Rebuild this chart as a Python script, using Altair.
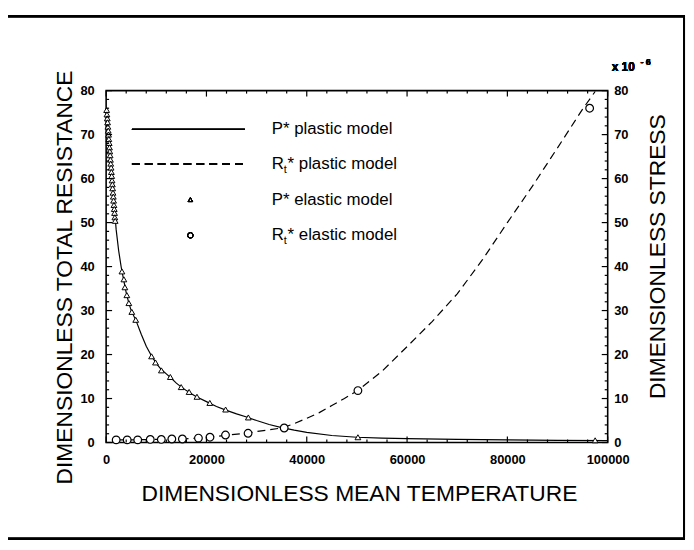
import altair as alt
import pandas as pd

# ---------------- data ----------------
# P* elastic model (triangles)
tri_x = [100, 160, 230, 290, 350, 420, 480, 540, 610, 670, 730, 800, 860, 920,
         990, 1050, 1110, 1180, 1240, 1300, 1370, 1430, 1490, 1560, 1620, 1680,
         1740, 1800, 3150, 3540, 3740, 4130, 4530, 5120, 5900, 9060, 9840, 11020,
         12800, 14960, 16540, 18110, 20670, 23820, 28350, 50200, 97500]
tri_y = [75.6, 74.6, 73.7, 72.8, 71.8, 70.9, 70.0, 69.0, 68.1, 67.1, 66.2, 65.3,
         64.3, 63.4, 62.5, 61.5, 60.6, 59.6, 58.7, 57.8, 56.8, 55.9, 55.0, 54.0,
         53.1, 52.2, 51.2, 50.4, 38.9, 37.1, 35.3, 33.5, 31.7, 29.7, 27.9, 19.6,
         18.2, 16.4, 14.9, 12.6, 11.5, 10.4, 9.0, 7.5, 5.7, 1.2, 0.5]

# Rt* elastic model (circles)
circ_x = [2000, 4200, 6300, 8800, 11000, 13100, 15200, 18400, 20700, 23800,
          28300, 35500, 50200, 96400]
circ_y = [0.6, 0.6, 0.6, 0.7, 0.7, 0.8, 0.8, 1.0, 1.2, 1.7, 2.1, 3.3, 11.8, 76.0]

# P* plastic model (solid line)
pp_x = [0, 500, 1000, 1500, 2000, 2500, 3000, 3500, 4000, 4500, 5000, 6000, 7000,
        8000, 9000, 10000, 11000, 12000, 13000, 14000, 15000, 16000, 17000, 18000,
        20000, 22000, 24000, 26000, 28000, 30000, 32500, 35000, 37500, 40000,
        45000, 50000, 55000, 60000, 70000, 80000, 90000, 100000]
pp_y = [76.0, 69.2, 62.3, 55.5, 48.4, 43.6, 39.9, 36.9, 34.1, 31.8, 30.0, 27.6,
        24.6, 21.9, 19.8, 18.0, 16.6, 15.6, 14.6, 13.5, 12.6, 11.8, 11.1, 10.4,
        9.3, 8.2, 7.3, 6.5, 5.8, 5.0, 4.1, 3.4, 2.8, 2.3, 1.6, 1.2, 1.0, 0.9,
        0.7, 0.6, 0.5, 0.45]

# Rt* plastic model (dashed line)
rp_x = [2000, 5000, 10000, 15000, 18000, 20000, 22500, 25000, 28000, 30000,
        32500, 35000, 37500, 40000, 42500, 45000, 47500, 50000, 55000, 60000,
        65000, 70000, 75000, 80000, 85000, 90000, 95000, 97500]
rp_y = [0.6, 0.6, 0.7, 0.8, 1.0, 1.15, 1.45, 1.8, 2.1, 2.5, 2.9, 3.3, 4.3, 5.5,
        6.8, 8.4, 10.0, 11.7, 16.2, 21.8, 27.5, 33.8, 41.5, 50.0, 58.3, 67.0,
        75.8, 79.8]

# axis ticks
x_major = [0, 20000, 40000, 60000, 80000, 100000]
x_minor = [v for v in range(4000, 100000, 4000) if v % 20000 != 0]
y_major = [0, 10, 20, 30, 40, 50, 60, 70, 80]
y_minor = [v for v in range(2, 80, 2) if v % 10 != 0]

# legend
leg_text = ["P* plastic model", "R", "t", "* plastic model",
            "P* elastic model", "R", "t", "* elastic model"]
leg_row = [0, 1, 1, 1, 2, 3, 3, 3]
leg_dx = [0, 0, 12.3, 16, 0, 0, 12.3, 16]
leg_sub = [0, 0, 1, 0, 0, 0, 1, 0]

x_title = "DIMENSIONLESS MEAN TEMPERATURE"
yl_title = "DIMENSIONLESS TOTAL RESISTANCE"
yr_title = "DIMENSIONLESS STRESS"

# ---------------- chart ----------------
W, H = 506, 355
FONT = "Liberation Sans"

tri = pd.DataFrame({"x": tri_x, "v": tri_y})
circ = pd.DataFrame({"x": circ_x, "v": circ_y})
pp = pd.DataFrame({"x": pp_x, "v": pp_y})
rp = pd.DataFrame({"x": rp_x, "v": rp_y})

xs = alt.Scale(domain=[0, 100000], nice=False, zero=False)
ys = alt.Scale(domain=[0, 80], nice=False, zero=False)

x_axis = alt.Axis(values=x_major, format="d", title=x_title, grid=False,
                  ticks=False, domain=False, labelFont=FONT, labelFontSize=13,
                  labelFontWeight="bold", labelColor="black", labelPadding=11,
                  labelFlush=False,
                  titleFont=FONT, titleFontSize=23, titleFontWeight="normal",
                  titleColor="black", titleX=255, titleY=59,
                  titleBaseline="alphabetic", titleAlign="center")

yl_axis = alt.Axis(values=y_major, orient="left", title=yl_title, grid=False,
                   ticks=False, domain=False, labelFont=FONT, labelFontSize=13,
                   labelFontWeight="bold", labelColor="black", labelPadding=12,
                   labelFlush=False,
                   titleFont=FONT, titleFontSize=23, titleFontWeight="normal",
                   titleColor="black", titleAngle=270, titleX=-35, titleY=188,
                   titleBaseline="alphabetic", titleAlign="center")

yr_axis = alt.Axis(values=y_major, orient="right", title=yr_title, grid=False,
                   ticks=False, domain=False, labelFont=FONT, labelFontSize=13,
                   labelFontWeight="bold", labelColor="black", labelPadding=6,
                   labelFlush=False,
                   titleFont=FONT, titleFontSize=23, titleFontWeight="normal",
                   titleColor="black", titleAngle=270, titleX=57, titleY=167,
                   titleBaseline="alphabetic", titleAlign="center")


def X():
    return alt.X("x:Q", scale=xs, axis=x_axis)


def Y(axis=None):
    return alt.Y("v:Q", scale=ys, axis=axis)


solid = alt.Chart(pp).mark_line(color="black", strokeWidth=1.2).encode(
    x=X(), y=Y(yl_axis))
dashed = alt.Chart(rp).mark_line(color="black", strokeWidth=1.2,
                                 strokeDash=[8, 5]).encode(x=X(), y=Y(yr_axis))
tris = alt.Chart(tri).mark_point(shape="triangle-up", filled=True, fill="white",
                                 stroke="black", strokeWidth=1, size=34,
                                 opacity=1).encode(x=X(), y=Y())
circs = alt.Chart(circ).mark_point(shape="circle", filled=True, fill="white",
                                   stroke="black", strokeWidth=1.2, size=60,
                                   opacity=1).encode(x=X(), y=Y())

# inward ticks
xmaj = pd.DataFrame({"x": x_major})
xmin = pd.DataFrame({"x": x_minor})
ymaj = pd.DataFrame({"v": y_major})
ymin = pd.DataFrame({"v": y_minor})
tk = dict(color="black", strokeWidth=1.2)
ticks = [
    alt.Chart(xmaj).mark_rule(**tk).encode(x=X(), y=alt.value(H), y2=alt.value(H - 6)),
    alt.Chart(xmin).mark_rule(**tk).encode(x=X(), y=alt.value(H), y2=alt.value(H - 3)),
    alt.Chart(xmaj).mark_rule(**tk).encode(x=X(), y=alt.value(0), y2=alt.value(6)),
    alt.Chart(xmin).mark_rule(**tk).encode(x=X(), y=alt.value(0), y2=alt.value(3)),
    alt.Chart(ymaj).mark_rule(**tk).encode(y=Y(), x=alt.value(0), x2=alt.value(6)),
    alt.Chart(ymin).mark_rule(**tk).encode(y=Y(), x=alt.value(0), x2=alt.value(3)),
    alt.Chart(ymaj).mark_rule(**tk).encode(y=Y(), x=alt.value(W), x2=alt.value(W - 6)),
    alt.Chart(ymin).mark_rule(**tk).encode(y=Y(), x=alt.value(W), x2=alt.value(W - 3)),
]

# legend (drawn inside the plot, top-left)
row_y = [39, 74, 110, 146]
leg_x0 = 167
leg_df = pd.DataFrame({
    "t": leg_text,
    "px": [leg_x0 + d for d in leg_dx],
    "py": [row_y[r] + (6 if s else 0) for r, s in zip(leg_row, leg_sub)],
    "fs": [11 if s else 17 for s in leg_sub],
})
leg_texts = alt.Chart(leg_df).mark_text(align="left", baseline="middle",
                                        font=FONT, color="black").encode(
    x=alt.X("px:Q", scale=None), y=alt.Y("py:Q", scale=None),
    text="t:N", size=alt.Size("fs:Q", scale=None, legend=None))
leg_solid = alt.Chart(xmaj).mark_rule(color="black", strokeWidth=1.2).encode(
    x=alt.value(26), x2=alt.value(140), y=alt.value(row_y[0]))
leg_dash = alt.Chart(xmaj).mark_rule(color="black", strokeWidth=1.2,
                                     strokeDash=[8, 5]).encode(
    x=alt.value(26), x2=alt.value(140), y=alt.value(row_y[1]))
leg_tri = alt.Chart(xmaj).mark_point(shape="triangle-up", filled=False,
                                     color="black", size=20, strokeWidth=1,
                                     opacity=1).encode(
    x=alt.value(85), y=alt.value(row_y[2]))
leg_circ = alt.Chart(xmaj).mark_point(shape="circle", filled=False,
                                      color="black", size=30, strokeWidth=1,
                                      opacity=1).encode(
    x=alt.value(85), y=alt.value(row_y[3]))

# "x 10^-6" multiplier above right axis
mult = alt.Chart(xmaj).mark_text(align="left", baseline="middle", font=FONT,
                                 fontSize=12, fontWeight="bold",
                                 color="black").encode(
    x=alt.value(W + 4), y=alt.value(-24), text=alt.value("x 10"))
mult_exp = alt.Chart(xmaj).mark_text(align="left", baseline="middle", font=FONT,
                                     fontSize=9, fontWeight="bold",
                                     color="black").encode(
    x=alt.value(W + 33), y=alt.value(-29), text=alt.value("- 6"))

# outer frame of the figure
frame = alt.Chart(xmaj).mark_rect(fill=None, stroke="black", strokeWidth=2).encode(
    x=alt.value(-100), x2=alt.value(583), y=alt.value(-75), y2=alt.value(452))

chart = alt.layer(
    solid, dashed, tris, circs, *ticks, leg_solid, leg_dash, leg_tri, leg_circ,
    leg_texts, mult, mult_exp, frame
).resolve_scale(y="independent").resolve_axis(y="independent").properties(
    width=W, height=H, autosize=alt.AutoSizeParams(type="none"),
    padding={"left": 99, "top": 81, "right": 79, "bottom": 98},
    background="white"
).configure_view(stroke="black", strokeWidth=1.6)

chart.save("out.html", embed_options={"renderer": "svg", "actions": False})
